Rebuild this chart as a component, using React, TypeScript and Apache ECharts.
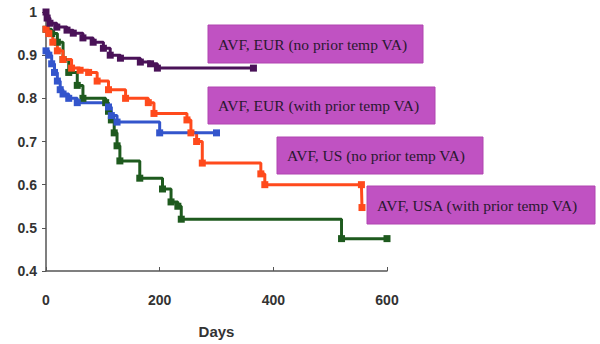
import React, { useEffect, useRef } from "react";
import * as echarts from "echarts";

const xTicks = [0, 200, 400, 600];

const eurNoPriorDays = [0, 2, 7, 19, 37, 48, 65, 83, 101, 113, 131, 166, 184, 196, 365];
const eurNoPriorVals = [1.0, 0.986, 0.974, 0.965, 0.958, 0.951, 0.94, 0.93, 0.916, 0.9, 0.893, 0.884, 0.88, 0.87, 0.87];

const eurPriorDays = [0, 5, 10, 15, 20, 25, 30, 40, 55, 110, 115, 125, 200, 300];
const eurPriorVals = [0.91, 0.9, 0.88, 0.86, 0.84, 0.82, 0.81, 0.8, 0.79, 0.78, 0.76, 0.745, 0.72, 0.72];

const usNoPriorDays = [0, 5, 12, 20, 30, 45, 60, 75, 90, 110, 140, 180, 190, 248, 255, 265, 275, 378, 385, 555, 556];
const usNoPriorVals = [0.96, 0.95, 0.93, 0.91, 0.89, 0.87, 0.865, 0.86, 0.84, 0.82, 0.8, 0.79, 0.765, 0.75, 0.72, 0.7, 0.65, 0.625, 0.6, 0.6, 0.547];

const usaPriorDays = [0, 10, 20, 30, 40, 55, 65, 105, 110, 115, 120, 125, 130, 165, 205, 220, 232, 238, 520, 600];
const usaPriorVals = [0.96, 0.95, 0.93, 0.89, 0.86, 0.83, 0.8, 0.79, 0.77, 0.75, 0.72, 0.69, 0.655, 0.615, 0.59, 0.56, 0.55, 0.52, 0.475, 0.475];

const labelTexts = [
  "AVF, EUR (no prior temp VA)",
  "AVF, EUR (with prior temp VA)",
  "AVF, US (no prior temp VA)",
  "AVF, USA (with prior temp VA)",
];

const toPairs = (d: number[], v: number[]) => d.map((x, i) => [x, v[i]]);

export default function App() {
  const ref = useRef<HTMLDivElement>(null);
  useEffect(() => {
    if (!ref.current) return;
    const chart = echarts.init(ref.current, undefined, { renderer: "svg" });
    const mk = (name: string, color: string, d: number[], v: number[]) => ({
      name,
      type: "line",
      step: "end",
      data: toPairs(d, v),
      symbol: "rect",
      symbolSize: 7,
      showAllSymbol: true,
      lineStyle: { color, width: 3 },
      itemStyle: { color },
    });
    const boxes = [
      { x: 208, y: 25, w: 215, h: 38 },
      { x: 208, y: 87, w: 227, h: 37 },
      { x: 277, y: 137, w: 206, h: 37 },
      { x: 367, y: 186, w: 228, h: 38 },
    ];
    chart.setOption({
      animation: false,
      grid: { left: 46, right: 213, top: 12, bottom: 73 },
      xAxis: {
        type: "value",
        min: 0,
        max: 600,
        interval: 200,
        name: "Days",
        nameLocation: "middle",
        nameGap: 53,
        nameTextStyle: { fontFamily: "Arial, Liberation Sans", fontWeight: "bold", fontSize: 15, color: "#333" },
        axisLine: { lineStyle: { color: "#555", width: 1.5 } },
        axisTick: { show: true, inside: true, length: 4, lineStyle: { color: "#555" } },
        axisLabel: {
          fontFamily: "Arial, Liberation Sans",
          fontWeight: "bold",
          fontSize: 14,
          color: "#333",
          margin: 22,
          formatter: (v: number) => String(xTicks.find((t) => t === v) ?? v),
        },
        splitLine: { show: false },
      },
      yAxis: {
        type: "value",
        min: 0.4,
        max: 1,
        interval: 0.1,
        axisLine: { show: true, lineStyle: { color: "#555", width: 1.5 } },
        axisTick: { show: true, length: 4, lineStyle: { color: "#555" } },
        axisLabel: {
          fontFamily: "Arial, Liberation Sans",
          fontWeight: "bold",
          fontSize: 14,
          color: "#333",
          margin: 9,
          formatter: (v: number) => (Math.abs(v - 1) < 1e-6 ? "1" : v.toFixed(1)),
        },
        splitLine: { show: false },
      },
      series: [
        mk("USA prior", "#1e5a1e", usaPriorDays, usaPriorVals),
        mk("US no prior", "#ff4a1c", usNoPriorDays, usNoPriorVals),
        mk("EUR prior", "#3355cc", eurPriorDays, eurPriorVals),
        mk("EUR no prior", "#4a1258", eurNoPriorDays, eurNoPriorVals),
      ],
      graphic: boxes.map((b, i) => ({
        type: "group",
        x: b.x,
        y: b.y,
        children: [
          { type: "rect", shape: { x: 0, y: 0, width: b.w, height: b.h }, style: { fill: "#c052c2", stroke: "#b044b0", lineWidth: 1 } },
          {
            type: "text",
            x: 10,
            y: b.h / 2,
            style: {
              text: labelTexts[i],
              fontFamily: "Liberation Serif, Times New Roman, serif",
              fontSize: 15.5,
              fill: "#2a1830",
              verticalAlign: "middle",
            },
          },
        ],
      })),
    });
    return () => chart.dispose();
  }, []);
  return <div ref={ref} style={{ width: 600, height: 344, position: "absolute", left: 0, top: 0, background: "#fff" }} />;
}
